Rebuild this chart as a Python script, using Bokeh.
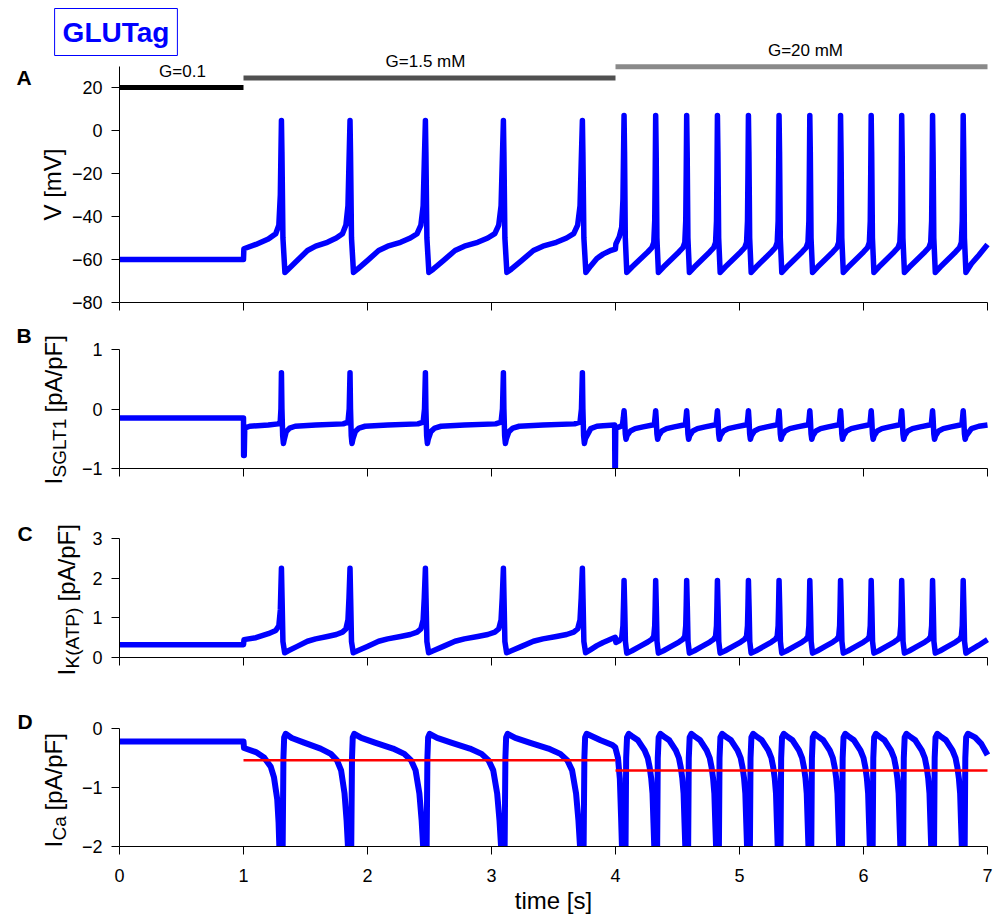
import numpy as np
from bokeh.plotting import figure
from bokeh.models import Label, FixedTicker, Range1d
from bokeh.layouts import column
from bokeh.embed import file_html
from bokeh.resources import INLINE

NAN = float("nan")

# ---------------- data ----------------
spikes_15 = [1.306, 1.859, 2.467, 3.096, 3.733]
spikes_20 = [4.069, 4.324, 4.574, 4.822, 5.072, 5.319, 5.567, 5.815, 6.062, 6.308, 6.557, 6.804]

# glucose protocol bars (panel A, in mV units)
g_start = [0, 1, 4]
g_end = [1, 4, 7]
g_level = [20, 24.4, 29.7]
g_text = ["G=0.1", "G=1.5 mM", "G=20 mM"]
g_text_x = [0.508, 2.468, 5.532]
g_text_y = [27.4, 32.1, 37.2]
g_color = ["#000000", "#505050", "#8a8a8a"]

# V [mV]
v_pre = [(0.0, -60), (1.0, -60), (1.003, -55), (1.1, -53), (1.2, -50.5), (1.26, -48),
         (1.285, -44), (1.297, -30), (1.302, -10)]
v_peak_15 = 4.6
v_fall_15 = [(0.004, -10), (0.012, -50), (0.028, -66)]
v_isi_15 = [(0.10, -64.5), (0.23, -60.5), (0.38, -55.8), (0.5, -53.8), (0.67, -52),
            (0.8, -50), (0.89, -48), (0.94, -44), (0.97, -35), (0.985, -15)]
v_trans = [(3.80, -63), (3.85, -59.5), (3.90, -57.5), (3.96, -55.8), (3.999, -55.2),
           (4.003, -52.8), (4.03, -49.5), (4.05, -45), (4.06, -32), (4.065, -10)]
v_peak_20 = 7
v_fall_20 = [(0.004, -10), (0.010, -50), (0.022, -66)]
v_isi_20 = [(0.25, -63.5), (0.5, -60), (0.75, -56.5), (0.88, -54.5), (0.94, -52),
            (0.97, -42), (0.985, -20)]
v_tail = [(6.87, -62), (6.93, -58), (7.0, -53)]

# I_SGLT1 [pA/pF]   (nan = trace leaves the axes)
b_pre = [(0.0, -0.15), (1.0, -0.15), (1.001, -0.78), (1.006, -0.78), (1.010, -0.32),
         (1.05, -0.29), (1.2, -0.27), (1.28, -0.25), (1.296, -0.22), (1.302, 0.0)]
b_peak_15 = 0.61
b_fall_15 = [(0.004, 0.0), (0.010, -0.45), (0.016, -0.58), (0.024, -0.5)]
b_isi_15 = [(0.07, -0.38), (0.12, -0.32), (0.2, -0.29), (0.5, -0.27), (0.9, -0.25),
            (0.97, -0.22), (0.988, 0.0)]
b_trans = [(3.80, -0.33), (3.85, -0.29), (3.9, -0.28), (3.993, -0.27), (3.995, -1.0),
           (3.997, NAN), (3.999, -1.0), (4.002, -0.32), (4.03, -0.3), (4.055, -0.28),
           (4.063, -0.15)]
b_peak_20 = -0.03
b_fall_20 = [(0.004, -0.15), (0.010, -0.42), (0.016, -0.51), (0.024, -0.45)]
b_isi_20 = [(0.2, -0.37), (0.35, -0.33), (0.6, -0.3), (0.9, -0.27), (0.96, -0.25),
            (0.985, -0.12)]
b_tail = [(6.87, -0.33), (6.93, -0.29), (7.0, -0.27)]

# I_K(ATP) [pA/pF]
c_pre = [(0.0, 0.32), (1.0, 0.32), (1.004, 0.45), (1.1, 0.5), (1.2, 0.6), (1.26, 0.68),
         (1.285, 0.8), (1.297, 1.2), (1.302, 1.8)]
c_peak_15 = 2.25
c_fall_15 = [(0.005, 1.5), (0.012, 0.4), (0.026, 0.12)]
c_isi_15 = [(0.10, 0.17), (0.23, 0.28), (0.38, 0.41), (0.5, 0.47), (0.67, 0.53),
            (0.8, 0.58), (0.89, 0.64), (0.94, 0.72), (0.97, 0.95), (0.985, 1.5)]
c_trans = [(3.80, 0.2), (3.85, 0.3), (3.90, 0.38), (3.96, 0.46), (3.998, 0.51),
           (4.003, 0.38), (4.03, 0.42), (4.05, 0.5), (4.06, 0.8), (4.066, 1.5)]
c_peak_20 = 1.94
c_fall_20 = [(0.005, 1.3), (0.011, 0.4), (0.022, 0.11)]
c_isi_20 = [(0.25, 0.17), (0.5, 0.28), (0.75, 0.39), (0.88, 0.46), (0.94, 0.54),
            (0.97, 0.8), (0.985, 1.3)]
c_tail = [(6.87, 0.2), (6.93, 0.31), (7.0, 0.45)]

# I_Ca [pA/pF]   (nan = trace below the axes)
d_pre = [(0.0, -0.22), (1.0, -0.22), (1.004, -0.33), (1.1, -0.4), (1.166, -0.49),
         (1.22, -0.65), (1.246, -0.83), (1.272, -1.2), (1.283, -1.6), (1.289, -2.0)]
d_peak_15 = NAN
d_fall_15 = [(0.010, -2.0), (0.016, -0.5), (0.022, -0.15), (0.034, -0.09)]
d_isi_15 = [(0.15, -0.16), (0.33, -0.24), (0.57, -0.34), (0.72, -0.43), (0.81, -0.54),
            (0.87, -0.71), (0.92, -1.1), (0.95, -1.56), (0.97, -2.0)]
d_trans = [(3.88, -0.2), (3.975, -0.28), (3.998, -0.32), (4.003, -0.36), (4.02, -0.5),
           (4.035, -0.85), (4.045, -1.5), (4.052, -2.0)]
d_peak_20 = NAN
d_fall_20 = [(0.012, -2.0), (0.017, -0.5), (0.024, -0.15), (0.038, -0.09)]
d_isi_20 = [(0.25, -0.13), (0.44, -0.2), (0.65, -0.37), (0.75, -0.5), (0.81, -0.66),
            (0.86, -0.85), (0.90, -1.1), (0.93, -1.6), (0.955, -2.0)]
d_tail = [(6.90, -0.15), (6.95, -0.26), (7.0, -0.45)]

# mean calcium current (red)
ca_mean_t0 = [1, 4]
ca_mean_t1 = [4, 7]
ca_mean_v = [-0.54, -0.71]

x_ticks = [0, 1, 2, 3, 4, 5, 6, 7]
a_ticks = [-80, -60, -40, -20, 0, 20]
b_ticks = [-1, 0, 1]
c_ticks = [0, 1, 2, 3]
d_ticks = [-2, -1, 0]


def regime(spikes, peak, fall, isi):
    out = []
    for i, ts in enumerate(spikes):
        out.append((ts, peak))
        out += [(ts + dt, v) for dt, v in fall]
        if i + 1 < len(spikes):
            d = spikes[i + 1] - ts
            out += [(ts + f * d, v) for f, v in isi]
    return out


def build(pre, pk15, f15, i15, trans, pk20, f20, i20, tail):
    pts = list(pre) + regime(spikes_15, pk15, f15, i15) + list(trans) \
        + regime(spikes_20, pk20, f20, i20) + list(tail)
    t, y = zip(*pts)
    return list(t), list(y)


# ---------------- layout (pixels) ----------------
FONT = "Liberation Sans"
BLUE = "#0000ff"
W = 1000
X0_PX, PX_PER_S = 119.0, 124.0          # t=0 at pixel 119, 124 px per second


def px_x(px):
    return (px - X0_PX) / PX_PER_S


xr = Range1d(px_x(0), px_x(W))


def minus(v):
    return str(v).replace("-", "\u2212")


class Panel:
    def __init__(self, top_px, height, ref_val, ref_px, px_per_unit, axis_lo, axis_hi, yticks, bottom_labels):
        self.top_px = top_px
        self.ref_val, self.ref_px, self.k = ref_val, ref_px, px_per_unit
        ytop = self.y(top_px)
        ybot = self.y(top_px + height)
        p = figure(width=W, height=height, x_range=xr, y_range=Range1d(ybot, ytop),
                   output_backend="svg", toolbar_location=None,
                   min_border=0, min_border_left=0, min_border_right=0,
                   min_border_top=0, min_border_bottom=0)
        p.outline_line_color = None
        p.grid.visible = False
        p.background_fill_color = "white"
        p.border_fill_color = "white"
        xa, ya = p.xaxis[0], p.yaxis[0]
        xa.fixed_location = axis_lo
        xa.bounds = (0, 7)
        ya.fixed_location = 0
        ya.bounds = (axis_lo, axis_hi)
        for ax, ticks in ((xa, x_ticks), (ya, yticks)):
            ax.ticker = FixedTicker(ticks=ticks)
            ax.major_label_overrides = {t: minus(t) for t in ticks}
            ax.minor_tick_line_color = None
            ax.major_tick_in = 0
            ax.major_tick_out = 8
            ax.axis_line_color = "black"
            ax.major_tick_line_color = "black"
            ax.major_label_text_font = FONT
            ax.major_label_text_font_size = "18px"
            ax.major_label_text_color = "black"
        ya.major_label_standoff = 9
        if bottom_labels:
            xa.major_label_standoff = 14
        else:
            xa.major_label_text_color = None
        self.p = p

    def y(self, py):
        return self.ref_val - (py - self.ref_px) / self.k

    def label(self, px, py, text, size, style="normal", angle=0.0, align="left",
              baseline="alphabetic", color="black", **kw):
        self.p.add_layout(Label(x=px_x(px), y=self.y(py), text=text, text_font=FONT,
                                text_font_size=size, text_font_style=style, angle=angle,
                                text_align=align, text_baseline=baseline, text_color=color, **kw))


R90 = np.pi / 2
LW = 5.5

# ---------------- panel A ----------------
A = Panel(0, 312, -80, 302, 2.15, -80, 30, a_ticks, False)
ta, ya_ = build(v_pre, v_peak_15, v_fall_15, v_isi_15, v_trans, v_peak_20, v_fall_20, v_isi_20, v_tail)
A.p.line(ta, ya_, line_color=BLUE, line_width=LW, line_join="round")
A.p.segment(x0=g_start, y0=g_level, x1=g_end, y1=g_level, line_color=g_color, line_width=5)
A.p.text(x=g_text_x, y=g_text_y, text=g_text, text_font={"value": FONT}, text_font_size="17px",
         text_align="center", text_baseline="middle", text_color="black")
A.label(52, 220, "V [mV]", "24px", angle=R90)
A.label(16, 77, "A", "21px", style="bold")
A.label(115.5, 31.5, "GLUTag", "28px", style="bold", align="center", baseline="middle",
        color=BLUE, border_line_color=BLUE, border_line_width=1, padding=8)

# ---------------- panel B ----------------
B = Panel(312, 193, 1, 349, 59.5, -1, 1, b_ticks, False)
tb, yb = build(b_pre, b_peak_15, b_fall_15, b_isi_15, b_trans, b_peak_20, b_fall_20, b_isi_20, b_tail)
B.p.line(tb, yb, line_color=BLUE, line_width=LW, line_join="round")
B.label(53, 484, "I", "24px", angle=R90)
B.label(59, 477, "SGLT1", "19px", angle=R90)
B.label(53, 412, "[pA/pF]", "24px", angle=R90)
B.label(16, 335, "B", "21px", style="bold")

# ---------------- panel C ----------------
C = Panel(505, 195, 3, 538, 39.667, 0, 3, c_ticks, False)
tc, yc = build(c_pre, c_peak_15, c_fall_15, c_isi_15, c_trans, c_peak_20, c_fall_20, c_isi_20, c_tail)
C.p.line(tc, yc, line_color=BLUE, line_width=LW, line_join="round")
C.label(66, 675, "I", "24px", angle=R90)
C.label(72, 668, "K(ATP)", "19px", angle=R90)
C.label(66, 601, "[pA/pF]", "24px", angle=R90)
C.label(17, 533, "C", "21px", style="bold")

# ---------------- panel D ----------------
D = Panel(700, 216, 0, 728, 59.0, -2, 0, d_ticks, True)
td, yd = build(d_pre, d_peak_15, d_fall_15, d_isi_15, d_trans, d_peak_20, d_fall_20, d_isi_20, d_tail)
D.p.line(td, yd, line_color=BLUE, line_width=6, line_join="round")
D.p.segment(x0=ca_mean_t0, y0=ca_mean_v, x1=ca_mean_t1, y1=ca_mean_v, line_color="#ff0000", line_width=2.5)
D.label(53, 847, "I", "24px", angle=R90)
D.label(59, 840, "Ca", "19px", angle=R90)
D.label(53, 810, "[pA/pF]", "24px", angle=R90)
D.label(17, 721, "D", "21px", style="bold")
D.label(553, 900, "time [s]", "24px", align="center", baseline="middle")

layout = column(A.p, B.p, C.p, D.p, spacing=0)
open("out.html", "w").write(file_html(layout, INLINE))
